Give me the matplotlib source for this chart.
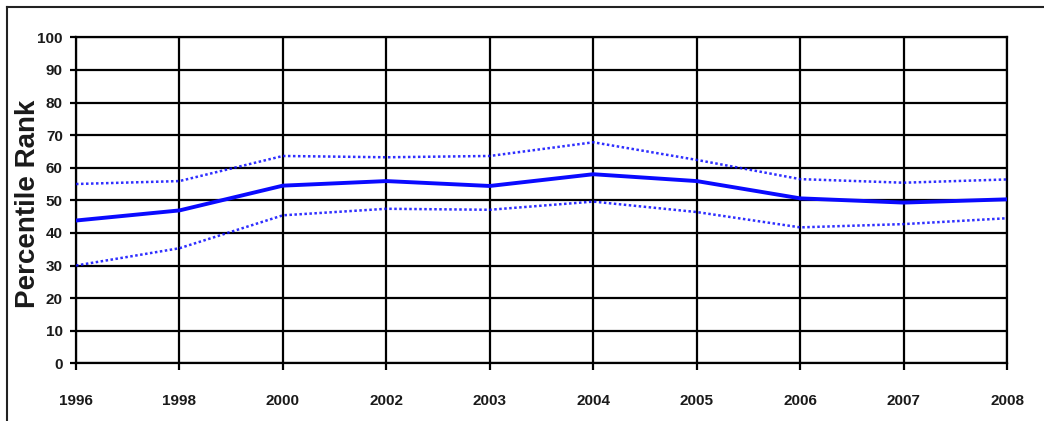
"""Percentile rank by year: median line with dotted upper and lower bands."""

import matplotlib

matplotlib.use("Agg")
import matplotlib.pyplot as plt  # noqa: E402
from matplotlib.lines import Line2D  # noqa: E402

years = ["1996", "1998", "2000", "2002", "2003", "2004", "2005", "2006", "2007", "2008"]
median = [43.8, 46.9, 54.5, 55.9, 54.4, 58.0, 55.9, 50.6, 49.3, 50.3]
upper = [55.0, 55.9, 63.6, 63.2, 63.6, 67.8, 62.4, 56.5, 55.4, 56.4]
lower = [30.0, 35.3, 45.4, 47.4, 47.1, 49.6, 46.4, 41.7, 42.7, 44.5]

plt.rcParams["font.family"] = ["Liberation Sans", "DejaVu Sans"]

fig = plt.figure(figsize=(10.44, 4.21), dpi=100)
ax = fig.add_axes([0.0728, 0.137, 0.8918, 0.7744])

x = range(len(years))
blue = "#0a0aff"
ax.plot(x, upper, color=blue, lw=1.8, ls=(0, (1, 1)), alpha=0.85, zorder=3)
ax.plot(x, lower, color=blue, lw=1.8, ls=(0, (1, 1)), alpha=0.85, zorder=3)
ax.plot(x, median, color=blue, lw=2.8, zorder=4)

ax.set_xlim(0, len(years) - 1)
ax.set_ylim(0, 100)
ax.set_xticks(list(x))
ax.set_xticklabels(years)
ax.set_yticks(range(0, 101, 10))

ax.grid(True, color="black", lw=1.6)
ax.set_axisbelow(True)
for sp in ax.spines.values():
    sp.set_linewidth(1.6)
    sp.set_color("black")

ax.tick_params(axis="both", colors="black", width=1.6, labelcolor="#1a1a1a",
               labelsize=11)
ax.tick_params(axis="x", length=5, pad=17)
ax.tick_params(axis="y", length=4.5, pad=5)
for lab in ax.get_xticklabels() + ax.get_yticklabels():
    lab.set_fontweight("bold")

ax.set_ylabel("Percentile Rank", fontsize=20, fontweight="bold", color="#1a1a1a")
ax.yaxis.set_label_coords(-0.0375, 0.49)

# border around the chart area, running off the right and bottom edges
fig.add_artist(Line2D([7 / 1044, 1.01], [1 - 7 / 421, 1 - 7 / 421],
                      transform=fig.transFigure, color="#222222", lw=1.5))
fig.add_artist(Line2D([7 / 1044, 7 / 1044], [-0.01, 1 - 7 / 421],
                      transform=fig.transFigure, color="#222222", lw=1.5))

fig.savefig("out.png", dpi=100)
